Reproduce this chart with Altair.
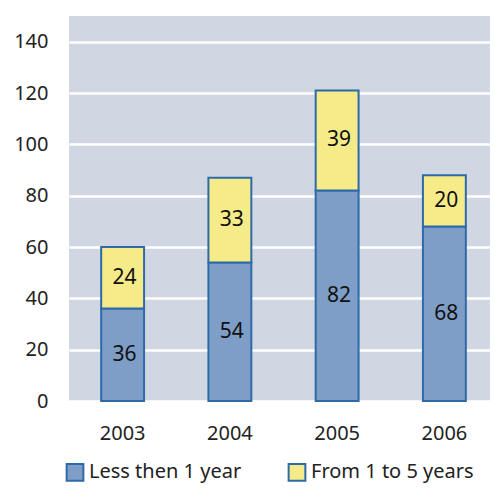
import altair as alt
import pandas as pd

years = ["2003", "2004", "2005", "2006"]
less_1 = [36, 54, 82, 68]
from_1_5 = [24, 33, 39, 20]
series = ["Less then 1 year", "From 1 to 5 years"]
colors = ["#7e9ec7", "#f5eb88"]

rows = []
for i, y in enumerate(years):
    rows.append({"year": y, "series": series[0], "value": less_1[i], "ord": 0,
                 "start": 0, "end": less_1[i]})
    rows.append({"year": y, "series": series[1], "value": from_1_5[i], "ord": 1,
                 "start": less_1[i], "end": less_1[i] + from_1_5[i]})
df = pd.DataFrame(rows)
df["mid"] = (df["start"] + df["end"]) / 2

FONT = "Noto Sans"

xscale = alt.Scale(paddingInner=0.6, paddingOuter=0.3, range=[0, 429])

bars = alt.Chart(df).mark_bar(stroke="#2e6aa8", strokeWidth=2).encode(
    x=alt.X("year:N", title=None, scale=xscale,
            axis=alt.Axis(labelAngle=0, labelFontSize=20, labelColor="#222",
                          labelFont=FONT, ticks=False, domain=False, labelPadding=22)),
    y=alt.Y("start:Q", title=None,
            scale=alt.Scale(domain=[0, 150], nice=False),
            axis=alt.Axis(values=[0, 20, 40, 60, 80, 100, 120, 140],
                          labelFontSize=20, labelColor="#222", labelFont=FONT,
                          ticks=False, domain=False, labelPadding=21,
                          grid=True, gridColor="white", gridWidth=2.5)),
    y2="end:Q",
    fill=alt.Fill("series:N", sort=series,
                  scale=alt.Scale(domain=series, range=colors),
                  legend=alt.Legend(title=None, orient="none", direction="horizontal",
                                    legendX=-4, legendY=446,
                                    symbolType="square", symbolSize=280,
                                    symbolStrokeColor="#2e6aa8", symbolStrokeWidth=2,
                                    symbolOpacity=1,
                                    labelFontSize=20, labelFont=FONT, labelColor="#222",
                                    columnPadding=42, labelOffset=4, labelLimit=300)),
)

labels = alt.Chart(df).mark_text(fontSize=21, font=FONT, color="#111", dx=2).encode(
    x=alt.X("year:N", scale=xscale),
    y=alt.Y("mid:Q"),
    text="value:Q",
)

chart = alt.layer(bars, labels).properties(
    width=421, height=385,
    autosize=alt.AutoSizeParams(type="none"),
    padding={"left": 61, "top": 8, "right": 0, "bottom": 86},
    background="white",
).configure_view(fill="#d0d7e2", stroke=None)

chart.save("out.html", embed_options={"renderer": "svg", "actions": False})
